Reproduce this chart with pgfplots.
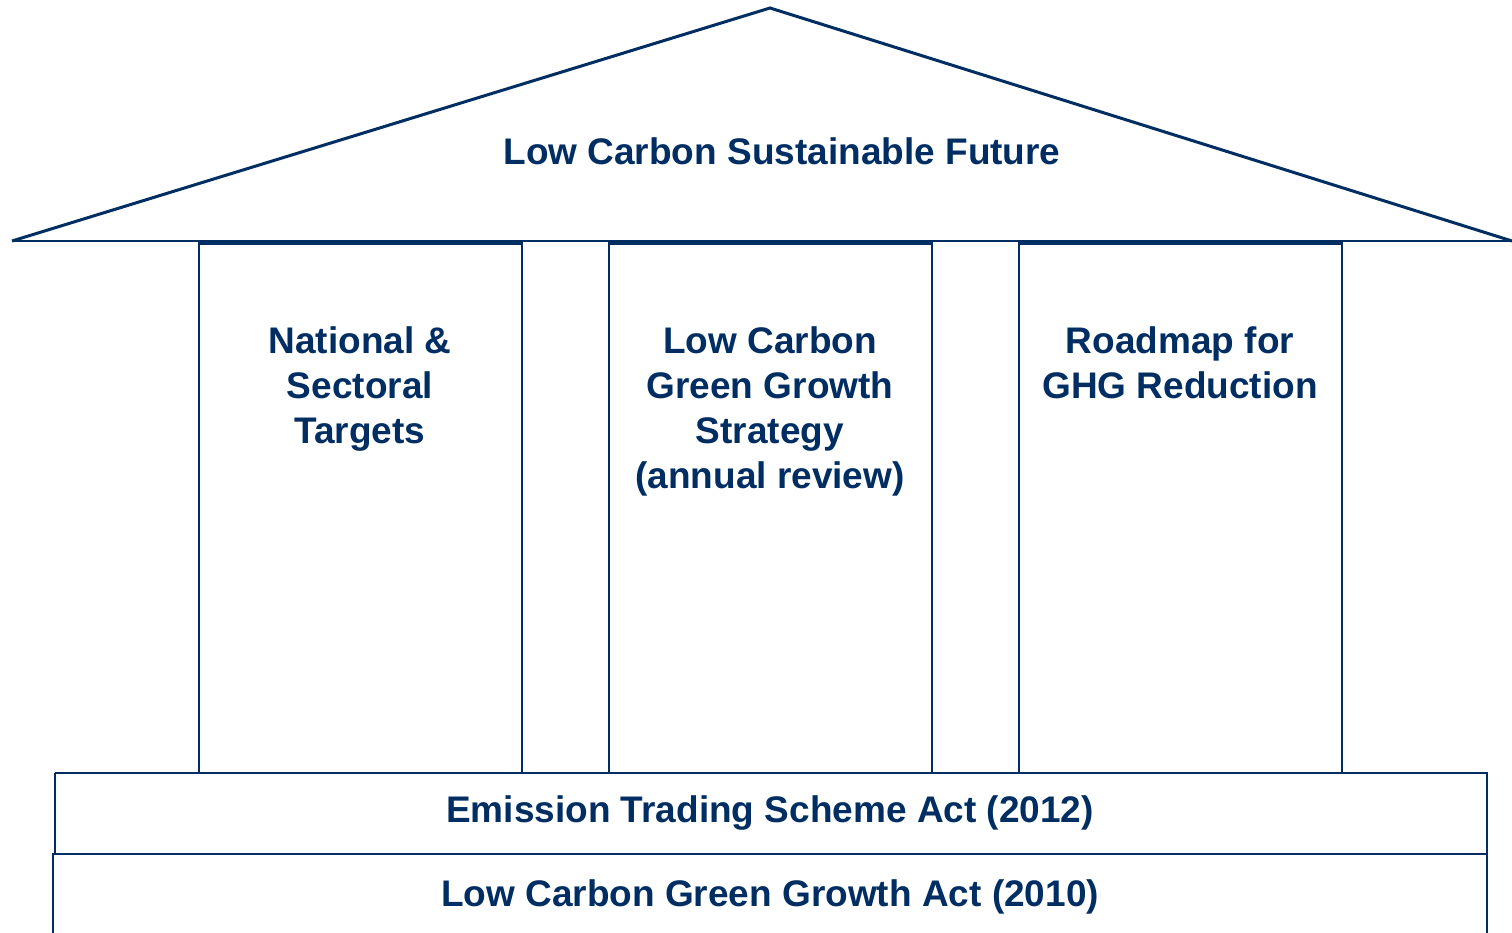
\documentclass[border=0pt]{standalone}
\usepackage{pgfplots}
\pgfplotsset{compat=1.18}
\usepackage{fontspec}
\setmainfont{Liberation Sans}
\definecolor{navy}{RGB}{0,45,98}
\begin{document}
\begin{tikzpicture}
\begin{axis}[
  width=756bp, height=466.5bp, scale only axis,
  xmin=0, xmax=1512, ymin=0, ymax=933, y dir=reverse,
  hide axis, clip=true,
]
\addplot[draw=none] coordinates {(0,0) (1512,933)};
% roof
\addplot[navy, line width=1.5bp, line join=miter] coordinates {(12,241) (770,8) (1512,241)};
\addplot[navy, line width=1bp] coordinates {(12,241) (1512,241)};
% pillars
\addplot[navy, line width=1.2bp] coordinates {(199,773) (199,243) (522,243) (522,773)};
\addplot[navy, line width=1.2bp] coordinates {(609,773) (609,243) (932,243) (932,773)};
\addplot[navy, line width=1.2bp] coordinates {(1019,773) (1019,243) (1342,243) (1342,773)};
\addplot[navy, line width=2.4bp] coordinates {(199,243) (522,243)};
\addplot[navy, line width=2.4bp] coordinates {(609,243) (932,243)};
\addplot[navy, line width=2.4bp] coordinates {(1019,243) (1342,243)};
% base boxes
\addplot[navy, line width=1.4bp] coordinates {(55,773) (1487,773) (1487,854) (55,854) (55,773)};
\addplot[navy, line width=1.4bp] coordinates {(53,940) (53,854) (1487,854) (1487,940)};
% texts
\begin{scope}[every node/.style={text=navy, font=\fontsize{18.5bp}{22.5bp}\selectfont\bfseries, anchor=base, inner sep=0pt}]
\node at (axis cs:782,165) {Low Carbon Sustainable Future};
\node at (axis cs:360,353) {National \&};
\node at (axis cs:360,398) {Sectoral};
\node at (axis cs:360,443) {Targets};
\node at (axis cs:770,353) {Low Carbon};
\node at (axis cs:770,398) {Green Growth};
\node at (axis cs:770,443) {Strategy};
\node at (axis cs:770,488) {(annual review)};
\node at (axis cs:1180,353) {Roadmap for};
\node at (axis cs:1180,398) {GHG Reduction};
\node at (axis cs:770,822) {Emission Trading Scheme Act (2012)};
\node at (axis cs:770,906) {Low Carbon Green Growth Act (2010)};
\end{scope}
\end{axis}
\end{tikzpicture}
\end{document}
